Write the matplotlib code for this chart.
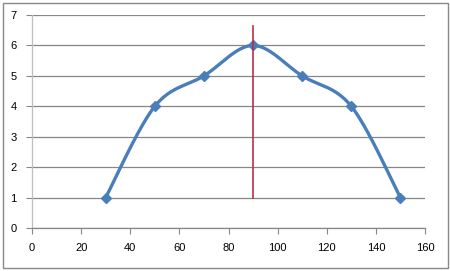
import matplotlib
matplotlib.use("Agg")
import matplotlib.pyplot as plt
import numpy as np
from matplotlib.patches import Rectangle

x_vals = [30, 50, 70, 90, 110, 130, 150]
y_vals = [1, 4, 5, 6, 5, 4, 1]
vline_x = 90
vline_y = [1, 6.65]
x_ticks = [0, 20, 40, 60, 80, 100, 120, 140, 160]
y_ticks = [0, 1, 2, 3, 4, 5, 6, 7]

plt.rcParams['font.family'] = ['Liberation Sans', 'DejaVu Sans']

def smooth(xs, ys, n=40):
    P = np.column_stack([xs, ys]).astype(float)
    Pe = np.vstack([P[0], P, P[-1]])
    out = []
    t = np.linspace(0, 1, n)[:, None]
    for i in range(1, len(Pe) - 2):
        p0, p3 = Pe[i], Pe[i + 1]
        c1 = p0 + (Pe[i + 1] - Pe[i - 1]) / 6
        c2 = p3 - (Pe[i + 2] - Pe[i]) / 6
        seg = ((1 - t) ** 3) * p0 + 3 * ((1 - t) ** 2) * t * c1 + 3 * (1 - t) * t ** 2 * c2 + t ** 3 * p3
        out.append(seg if i == 1 else seg[1:])
    c = np.vstack(out)
    return c[:, 0], c[:, 1]

fig = plt.figure(figsize=(4.5, 2.71), dpi=100)
fig.patch.set_facecolor('white')
ax = fig.add_axes([32/450, 1 - 228/271, (425-32)/450, (228-15)/271])

sx, sy = smooth(x_vals, y_vals)
ax.plot(sx, sy, color='#4A7EBB', lw=2.4, solid_capstyle='round', zorder=3)
ax.plot(x_vals, y_vals, linestyle='none', marker='D', ms=5.5, color='#4A7EBB',
        mec='#4A7EBB', zorder=4)
ax.plot([vline_x, vline_x], vline_y, color='#B2334A', lw=1.2, zorder=5)

ax.set_xlim(0, 160)
ax.set_ylim(0, 7)
ax.set_xticks(x_ticks)
ax.set_yticks(y_ticks)
ax.yaxis.grid(True, color='#878787', lw=0.9)
ax.set_axisbelow(True)
for s in ['top', 'right']:
    ax.spines[s].set_visible(False)
ax.spines['left'].set_color('#BFBFBF')
ax.spines['bottom'].set_color('#878787')
ax.spines['left'].set_linewidth(0.9)
ax.spines['bottom'].set_linewidth(0.9)
ax.tick_params(axis='x', direction='out', length=4, color='#878787', labelsize=8, pad=7)
ax.tick_params(axis='y', direction='out', length=4, color='#878787', labelsize=8, pad=7)

fig.patches.append(Rectangle((2.5/450, 3/271), 445/450, 265/271, transform=fig.transFigure,
                             fill=False, edgecolor='#888888', lw=1.0))

fig.savefig('out.png', dpi=100)
